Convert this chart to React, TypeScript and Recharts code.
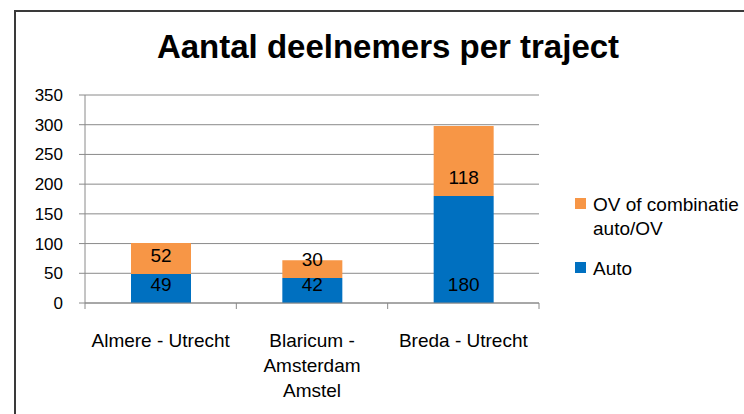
import React from 'react';
import { BarChart, Bar, XAxis, YAxis, CartesianGrid, Legend, LabelList } from 'recharts';

const trajecten = ['Almere - Utrecht', 'Blaricum -\nAmsterdam\nAmstel', 'Breda - Utrecht'];
const autoValues = [49, 42, 180];
const ovValues = [52, 30, 118];
const yTicks = [0, 50, 100, 150, 200, 250, 300, 350];

const autoName = 'Auto';
const ovName = 'OV of combinatie auto/OV';

const data = trajecten.map((name, i) => ({ name, auto: autoValues[i], ov: ovValues[i] }));

const FONT = '"Liberation Sans", Arial, sans-serif';
const gridColor = '#8a8a8a';
const autoColor = '#0070C0';
const ovColor = '#F79646';

// category labels, plus the Excel-style tick marks between the categories
function CategoryTick(props: any) {
  const { x, y, payload, index, width, visibleTicksCount } = props;
  const band = width / visibleTicksCount;
  const left = x - band / 2;
  const right = x + band / 2;
  const lines = String(payload.value).split('\n');
  return (
    <g>
      <line x1={left} x2={left} y1={y - 6} y2={y} stroke={gridColor} />
      {index === visibleTicksCount - 1 && <line x1={right} x2={right} y1={y - 6} y2={y} stroke={gridColor} />}
      <text x={x} y={y + 38} textAnchor="middle" fontSize={19} fill="#000" fontFamily={FONT}>
        {lines.map((line, i) => (
          <tspan key={i} x={x} dy={i === 0 ? 0 : 25}>
            {line}
          </tspan>
        ))}
      </text>
    </g>
  );
}

function LegendContent({ payload }: any) {
  const items = [...(payload ?? [])].reverse();
  return (
    <div style={{ fontFamily: FONT, fontSize: 19, lineHeight: '24px', color: '#000' }}>
      {items.map((item: any, i: number) => (
        <div key={i} style={{ display: 'flex', alignItems: 'flex-start', marginBottom: 16 }}>
          <span style={{ width: 11, height: 11, background: item.color, marginTop: 5, marginRight: 7, flex: 'none' }} />
          <span style={{ width: 160 }}>{item.value}</span>
        </div>
      ))}
    </div>
  );
}

export default function App() {
  return (
    <div style={{ position: 'absolute', left: 0, top: 0, width: 744, height: 414, overflow: 'hidden', fontFamily: FONT, background: '#fff' }}>
      <div
        style={{
          position: 'absolute',
          left: 14,
          top: 10,
          width: 760,
          height: 420,
          borderLeft: '2px solid #3a3a3a',
          borderTop: '2px solid #3a3a3a',
        }}
      />
      <div
        style={{
          position: 'absolute',
          left: 88,
          top: 30,
          width: 600,
          textAlign: 'center',
          fontSize: 33,
          lineHeight: '33px',
          fontWeight: 'bold',
          color: '#000',
        }}
      >
        Aantal deelnemers per traject
      </div>
      <BarChart width={744} height={414} data={data} margin={{ top: 95, right: 205, bottom: 11, left: 0 }}>
        <CartesianGrid horizontal vertical={false} stroke={gridColor} />
        <XAxis
          dataKey="name"
          height={100}
          axisLine={{ stroke: gridColor }}
          tickLine={false}
          tickSize={6}
          tickMargin={0}
          interval={0}
          tick={<CategoryTick />}
        />
        <YAxis
          width={85}
          domain={[0, 350]}
          ticks={yTicks}
          axisLine={{ stroke: gridColor }}
          tickLine={{ stroke: gridColor }}
          tickSize={6}
          tickMargin={16}
          tick={{ fill: '#000', fontSize: 17 }}
        />
        <Legend
          layout="vertical"
          align="center"
          verticalAlign="middle"
          wrapperStyle={{ left: 575, top: 193, width: 180 }}
          content={<LegendContent />}
        />
        <Bar dataKey="auto" name={autoName} stackId="a" fill={autoColor} barSize={60} isAnimationActive={false}>
          <LabelList dataKey="auto" position="insideBottom" offset={12} fill="#000" fontSize={19} />
        </Bar>
        <Bar dataKey="ov" name={ovName} stackId="a" fill={ovColor} barSize={60} isAnimationActive={false}>
          <LabelList dataKey="ov" position="insideBottom" offset={12} fill="#000" fontSize={19} />
        </Bar>
      </BarChart>
    </div>
  );
}
